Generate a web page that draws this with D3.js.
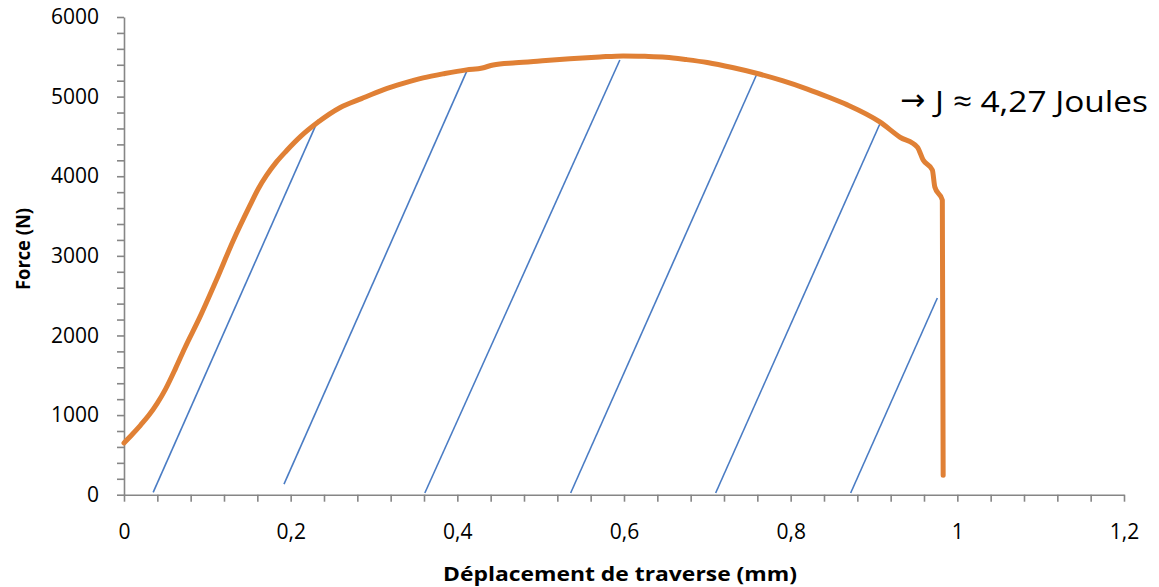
<!DOCTYPE html>
<html>
<head>
<meta charset="utf-8">
<script src="https://cdn.jsdelivr.net/npm/d3@7"></script>
<style>
  html, body { margin: 0; padding: 0; background: #fff; }
  svg { display: block; }
  text { font-family: "Open Sans", "Liberation Sans", sans-serif; fill: #000; }
</style>
</head>
<body>
<svg id="chart" width="1159" height="587"></svg>
<script>
// ---- data ----
const forceX = [0, 0.010, 0.020, 0.030, 0.040, 0.050, 0.062, 0.073, 0.091, 0.111, 0.131, 0.151, 0.161, 0.171, 0.183, 0.195, 0.212, 0.233, 0.259, 0.285, 0.311, 0.335, 0.359, 0.385, 0.411, 0.43, 0.443, 0.47, 0.499, 0.535, 0.571, 0.599, 0.625, 0.650, 0.675, 0.700, 0.730, 0.760, 0.790, 0.820, 0.845, 0.868, 0.907, 0.931, 0.952, 0.959, 0.970, 0.973, 0.982, 0.983];
const forceY = [650, 760, 875, 1000, 1150, 1330, 1590, 1843, 2230, 2700, 3190, 3630, 3840, 4010, 4180, 4320, 4500, 4680, 4860, 4975, 5084, 5165, 5235, 5290, 5336, 5360, 5398, 5425, 5448, 5475, 5498, 5511, 5506, 5495, 5465, 5428, 5365, 5290, 5200, 5095, 4995, 4896, 4682, 4492, 4366, 4203, 4078, 3865, 3700, 245];

// unloading lines: start (x0,y0) -> end (x1,y1)
const unloadX0 = [0.035, 0.192, 0.361, 0.536, 0.710, 0.872];
const unloadY0 = [30, 132, 21, 21, 21, 21];
const unloadX1 = [0.233, 0.412, 0.595, 0.760, 0.907, 0.976];
const unloadY1 = [4707, 5335, 5460, 5297, 4656, 2470];

const xTicks = d3.range(0, 1.2001, 0.04);
const xLabelTicks = [0, 0.2, 0.4, 0.6, 0.8, 1, 1.2];
const yTicks = d3.range(0, 6001, 200);
const yLabelTicks = [0, 1000, 2000, 3000, 4000, 5000, 6000];

const xTitle = "Déplacement de traverse (mm)";
const yTitle = "Force (N)";
const annotationArrow = "→";
const annotation = "J ≈ 4,27 Joules";

// ---- layout ----
const svg = d3.select("#chart");
const padL = 124, padR = 1124, padT = 17, padB = 494.7;

const x = d3.scaleLinear().domain([0, 1.2]).range([padL, padR]);
const y = d3.scaleLinear().domain([0, 6000]).range([padB, padT]);

const axisColor = "#868686";
const isLabel = (v, arr) => arr.some(a => Math.abs(a - v) < 1e-6);
const fmt = v => String(+v.toFixed(2)).replace(".", ",");

// x axis
const gx = svg.append("g").attr("transform", `translate(0,${padB})`)
  .call(d3.axisBottom(x).tickValues(xTicks).tickSizeInner(7).tickSizeOuter(0).tickPadding(22)
    .tickFormat(v => isLabel(v, xLabelTicks) ? fmt(v) : ""));
gx.select(".domain").attr("stroke", axisColor).attr("stroke-width", 1.6);
gx.selectAll(".tick line").attr("stroke", axisColor).attr("stroke-width", 1.6);
gx.selectAll(".tick text").attr("font-size", 21).attr("font-family", "Open Sans").attr("fill", "#000");

// y axis
const gy = svg.append("g").attr("transform", `translate(${padL},0)`)
  .call(d3.axisLeft(y).tickValues(yTicks).tickSizeInner(7).tickSizeOuter(0).tickPadding(18)
    .tickFormat(v => isLabel(v, yLabelTicks) ? String(v) : ""));
gy.select(".domain").attr("stroke", axisColor).attr("stroke-width", 1.6);
gy.selectAll(".tick line").attr("stroke", axisColor).attr("stroke-width", 1.6);
gy.selectAll(".tick text").attr("font-size", 21).attr("font-family", "Open Sans").attr("fill", "#000");

// unloading lines
const unload = unloadX0.map((d, i) => [[unloadX0[i], unloadY0[i]], [unloadX1[i], unloadY1[i]]]);
const line = d3.line().x(d => x(d[0])).y(d => y(d[1]));
svg.append("g").selectAll("path").data(unload).join("path")
  .attr("d", line)
  .attr("fill", "none")
  .attr("stroke", "#4A7CC4")
  .attr("stroke-width", 1.6);

// force curve
const curve = forceX.map((d, i) => [forceX[i], forceY[i]]);
svg.append("path").datum(curve)
  .attr("d", d3.line().x(d => x(d[0])).y(d => y(d[1])).curve(d3.curveMonotoneX))
  .attr("fill", "none")
  .attr("stroke", "#E08035")
  .attr("stroke-width", 5)
  .attr("stroke-linejoin", "round")
  .attr("stroke-linecap", "round");

// titles
svg.append("text")
  .attr("x", 620).attr("y", 581)
  .attr("text-anchor", "middle")
  .attr("font-size", 19).attr("font-weight", "bold")
  .attr("textLength", 354).attr("lengthAdjust", "spacingAndGlyphs")
  .text(xTitle);

svg.append("text")
  .attr("transform", "translate(30,249) rotate(-90)")
  .attr("text-anchor", "middle")
  .attr("font-size", 19).attr("font-weight", "bold")
  .attr("textLength", 82).attr("lengthAdjust", "spacingAndGlyphs")
  .text(yTitle);

// annotation
svg.append("text")
  .attr("x", 900).attr("y", 110)
  .style("font-family", "'DejaVu Sans'")
  .attr("font-size", 30)
  .text(annotationArrow);
svg.append("text")
  .attr("x", 935).attr("y", 112)
  .attr("font-size", 30)
  .attr("textLength", 213).attr("lengthAdjust", "spacingAndGlyphs")
  .text(annotation);
</script>
</body>
</html>
